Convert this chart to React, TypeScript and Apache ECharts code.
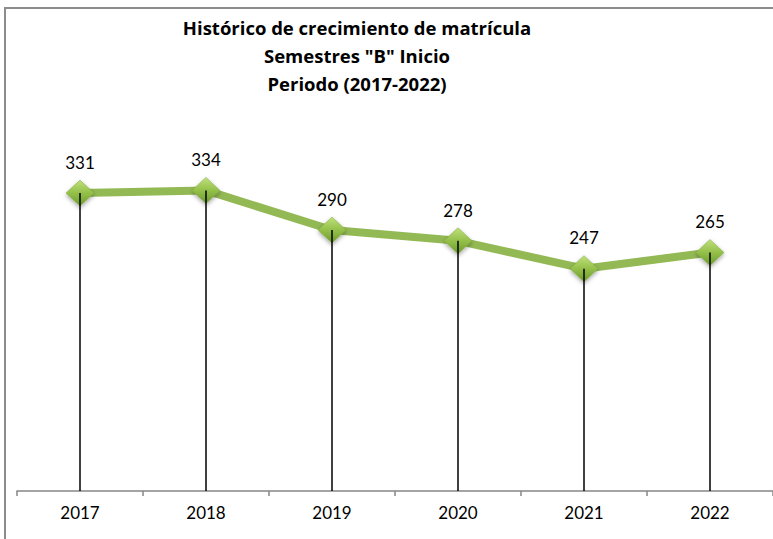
import React, { useEffect, useRef } from "react";
import * as echarts from "echarts";

const titleLines = [
  "Histórico de crecimiento de matrícula",
  'Semestres "B" Inicio',
  "Periodo (2017-2022)",
];
const years = ["2017", "2018", "2019", "2020", "2021", "2022"];
const enrollment = [331, 334, 290, 278, 247, 265];

export default function App() {
  const ref = useRef<HTMLDivElement>(null);
  useEffect(() => {
    if (!ref.current) return;
    const chart = echarts.init(ref.current, null, { renderer: "svg" });
    chart.setOption({
      animation: false,
      backgroundColor: "#ffffff",
      graphic: [
        {
          type: "rect",
          shape: { x: 5, y: 8, width: 1000, height: 1000 },
          style: { fill: "none", stroke: "#8c8c8c", lineWidth: 2 },
          z: 0,
        },
        {
          type: "text",
          x: 357,
          y: 13,
          style: {
            text: titleLines.join("\n"),
            textAlign: "center",
            textVerticalAlign: "top",
            fontFamily: "Open Sans",
            fontWeight: "bold",
            fontSize: 18.5,
            lineHeight: 28,
            fill: "#000000",
          },
        },
      ],
      grid: { left: 17, top: 131, width: 761, height: 360, containLabel: false },
      xAxis: {
        type: "category",
        data: years,
        boundaryGap: true,
        axisLine: { show: true, lineStyle: { color: "#868686", width: 1.5 } },
        axisTick: { show: true, length: 5, lineStyle: { color: "#868686", width: 1.5 } },
        axisLabel: { color: "#000000", fontSize: 17, fontFamily: "Lato", margin: 13 },
        splitLine: { show: false },
      },
      yAxis: {
        type: "value",
        min: 0,
        max: 400,
        show: false,
        splitLine: { show: false },
      },
      series: [
        {
          type: "line",
          data: enrollment,
          z: 2,
          symbol: "diamond",
          symbolSize: [28, 26],
          lineStyle: { color: "#93b955", width: 8 },
          itemStyle: {
            color: new echarts.graphic.LinearGradient(0, 0, 0, 1, [
              { offset: 0, color: "#bfe07a" },
              { offset: 0.5, color: "#94c04a" },
              { offset: 1, color: "#6e9a2c" },
            ]),
            borderColor: "#7fa83c",
            borderWidth: 0.5,
            shadowColor: "rgba(0,0,0,0.35)",
            shadowBlur: 4,
            shadowOffsetY: 2,
          },
          label: {
            show: true,
            position: "top",
            distance: 9,
            color: "#000000",
            fontSize: 17,
            fontFamily: "Lato",
          },
        },
        {
          type: "bar",
          data: enrollment,
          z: 5,
          barWidth: 1.5,
          itemStyle: { color: "#000000" },
          label: { show: false },
          silent: true,
        },
      ],
    });
    return () => chart.dispose();
  }, []);
  return (
    <div
      ref={ref}
      style={{ position: "fixed", left: 0, top: 0, width: 773, height: 539 }}
    />
  );
}
